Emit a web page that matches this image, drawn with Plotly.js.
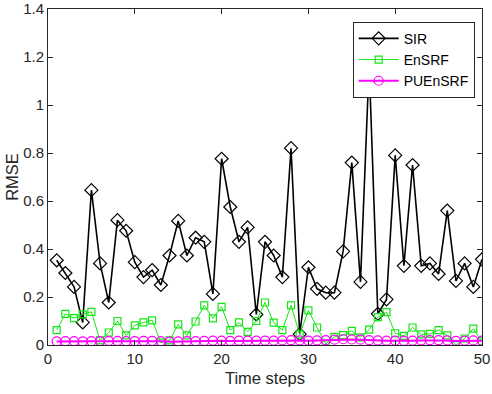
<!DOCTYPE html>
<html>
<head>
<meta charset="utf-8">
<script src="https://cdn.plot.ly/plotly-3.0.1.min.js"></script>
<style>html,body{margin:0;padding:0;background:#fff;}#chart{width:492px;height:394px;}</style>
</head>
<body>
<div id="chart"></div>
<script>
var timeSteps = [];
for (var i = 1; i <= 50; i++) timeSteps.push(i);

var sirRMSE = [0.353,0.30,0.242,0.094,0.645,0.34,0.177,0.52,0.476,0.345,
               0.283,0.312,0.25,0.373,0.517,0.373,0.447,0.43,0.213,0.776,
               0.575,0.43,0.49,0.127,0.43,0.373,0.283,0.82,0.045,0.324,
               0.234,0.218,0.218,0.39,0.76,0.263,1.17,0.13,0.19,0.79,
               0.33,0.75,0.33,0.34,0.296,0.56,0.267,0.34,0.242,0.357];

var ensrfRMSE = [0.062,0.13,0.112,0.128,0.138,0.019,0.052,0.10,0.04,0.082,
                 0.094,0.103,0.01,0.019,0.086,0.04,0.098,0.165,0.111,0.159,
                 0.062,0.094,0.055,0.10,0.177,0.093,0.062,0.165,0.044,0.144,
                 0.073,0.004,0.034,0.041,0.059,0.032,0.064,0.116,0.137,0.049,
                 0.038,0.073,0.044,0.046,0.062,0.04,0.0,0.027,0.068,0.015];

var puensrfRMSE = [0.015,0.016,0.016,0.015,0.016,0.016,0.017,0.017,0.016,0.016,
                   0.017,0.017,0.016,0.014,0.015,0.016,0.016,0.017,0.018,0.018,
                   0.017,0.018,0.018,0.018,0.018,0.018,0.019,0.020,0.019,0.018,
                   0.019,0.020,0.022,0.024,0.023,0.022,0.020,0.019,0.018,0.018,
                   0.017,0.018,0.019,0.020,0.020,0.019,0.017,0.018,0.019,0.018];

var seriesNames = ['SIR', 'EnSRF', 'PUEnSRF'];
var xTicks = [0, 10, 20, 30, 40, 50];
var xTickText = ['0', '10', '20', '30', '40', '50'];
var yTicks = [0, 0.2, 0.4, 0.6, 0.8, 1, 1.2, 1.4];
var yTickText = ['0', '0.2', '0.4', '0.6', '0.8', '1', '1.2', '1.4'];

var FONT = 'Liberation Sans, Arial, sans-serif';

var traces = [
  {x: timeSteps, y: sirRMSE, name: seriesNames[0], mode: 'lines+markers',
   line: {color: '#000000', width: 1.6},
   marker: {symbol: 'diamond-open', size: 10, color: '#000000', line: {width: 1.2}}},
  {x: timeSteps, y: ensrfRMSE, name: seriesNames[1], mode: 'lines+markers',
   line: {color: '#14e614', width: 1},
   marker: {symbol: 'square-open', size: 7, color: '#14e614', line: {width: 1.2}}},
  {x: timeSteps, y: puensrfRMSE, name: seriesNames[2], mode: 'lines+markers',
   line: {color: '#ff00ff', width: 2},
   marker: {symbol: 'circle-open', size: 9, color: '#ff00ff', line: {width: 1.2}}}
];

var axisCommon = {
  showline: true, linecolor: '#262626', linewidth: 1, mirror: 'ticks',
  ticks: 'inside', ticklen: 5, tickcolor: '#262626', showgrid: false, zeroline: false,
  ticklabeloverflow: 'allow',
  tickfont: {family: FONT, size: 15, color: '#262626'}
};

var layout = {
  width: 492, height: 394,
  margin: {l: 47.5, r: 10, t: 9, b: 49, pad: 0},
  paper_bgcolor: '#fff', plot_bgcolor: '#fff',
  showlegend: true,
  legend: {x: 0.702, y: 0.962, xanchor: 'left', yanchor: 'top',
           bgcolor: '#fff', bordercolor: '#262626', borderwidth: 1,
           font: {family: FONT, size: 14, color: '#000'},
           tracegroupgap: 0, itemwidth: 40},
  xaxis: Object.assign({}, axisCommon, {range: [0, 50], tickvals: xTicks, ticktext: xTickText,
    title: {text: 'Time steps', standoff: 6, font: {family: FONT, size: 16.5, color: '#262626'}}}),
  yaxis: Object.assign({}, axisCommon, {range: [0, 1.4], tickvals: yTicks, ticktext: yTickText,
    title: {text: 'RMSE', standoff: 0, font: {family: FONT, size: 16.5, color: '#262626'}}})
};

Plotly.newPlot('chart', traces, layout, {displayModeBar: false, staticPlot: true});
</script>
</body>
</html>
